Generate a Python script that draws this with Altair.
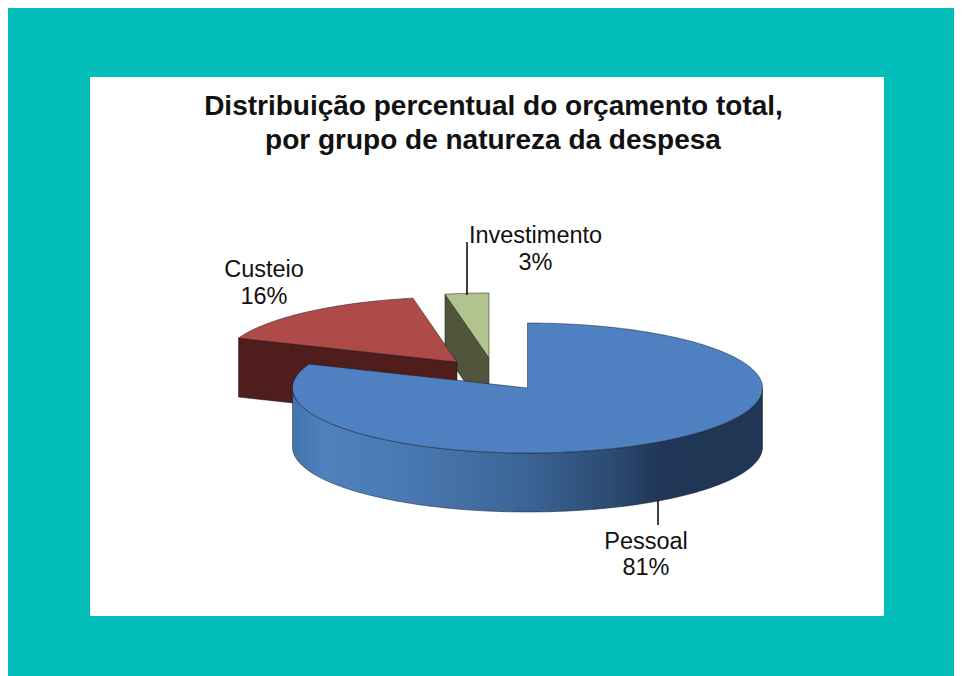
import math
import altair as alt
import pandas as pd

# Data
categories = ["Pessoal", "Custeio", "Investimento"]
shares = [81, 16, 3]
percent_labels = ["81%", "16%", "3%"]
title_lines = ["Distribuição percentual do orçamento total,", "por grupo de natureza da despesa"]

# Styling / layout
W, H = 946, 668
OFF = 8
TEAL = "#01BEB9"
RX, RY, DEPTH = 235, 65, 59
APEX = {"Pessoal": (527.5, 388), "Custeio": (457, 362), "Investimento": (489, 358)}
TOP = {"Pessoal": "#4F81C2", "Custeio": "#AE4A47", "Investimento": "#B3C38D"}
SIDE = {"Custeio": "#4F1E1C", "Investimento": "#50553B"}
EDGE = "#10151c"


def pt(apex, theta_deg, dy=0):
    t = math.radians(theta_deg)
    return [apex[0] + RX * math.sin(t), apex[1] - RY * math.cos(t) + dy]


def arc(apex, a, b, dy=0, step=1.0):
    n = max(2, int(abs(b - a) / step))
    return [pt(apex, a + (b - a) * i / n, dy) for i in range(n + 1)]


def feature(ring):
    ring = [list(p) for p in ring]
    ring.append(list(ring[0]))
    return {"type": "Feature", "properties": {}, "geometry": {"type": "Polygon", "coordinates": [ring]}}


def poly(ring, fill, stroke=EDGE, sw=0.6):
    return alt.Chart(alt.Data(values=[feature(ring)])).mark_geoshape(
        fill=fill, stroke=stroke, strokeWidth=sw, strokeOpacity=0.8
    ).project(type="identity", scale=1, translate=[-OFF, -OFF])


one = pd.DataFrame({"k": [0]})


def text(s, cx, y, size, bold=False):
    return alt.Chart(pd.DataFrame({"t": [s]})).mark_text(
        font="Liberation Sans", fontSize=size, fontWeight="bold" if bold else "normal",
        color="#111111", align="center", baseline="alphabetic",
    ).encode(x=alt.value(cx - OFF), y=alt.value(y - OFF), text="t:N")


def rule(x, y1, y2):
    return alt.Chart(one).mark_rule(color="#111111", strokeWidth=1.6).encode(
        x=alt.value(x - OFF), y=alt.value(y1 - OFF), y2=alt.value(y2 - OFF)
    )


# angles, clockwise from 12 o'clock
cum = [0]
for s in shares:
    cum.append(cum[-1] + s * 3.6)
p0, p1 = cum[0], cum[1]
c0, c1 = cum[1], cum[2]
i0, i1 = cum[2], cum[3]

panel = alt.Chart(one).mark_rect(color="white").encode(
    x=alt.value(90 - OFF), x2=alt.value(884 - OFF), y=alt.value(77 - OFF), y2=alt.value(616 - OFF)
)

# Investimento
A = APEX["Investimento"]
inv_face = [pt(A, i0), list(A), [A[0], A[1] + DEPTH], pt(A, i0, DEPTH)]
inv_top = [list(A)] + arc(A, i0, i1)

# Custeio
A = APEX["Custeio"]
cus_face = [pt(A, c0), list(A), [A[0], A[1] + DEPTH], pt(A, c0, DEPTH)]
cus_top = [list(A)] + arc(A, c0, c1)

# Pessoal
A = APEX["Pessoal"]
pes_side = arc(A, 90, 270) + arc(A, 270, 90, DEPTH)
pes_top = [list(A)] + arc(A, p0, p1)
side_gradient = alt.LinearGradient(
    gradient="linear", x1=0, x2=1, y1=0, y2=0,
    stops=[
        alt.GradientStop(offset=0.0, color="#4474AC"),
        alt.GradientStop(offset=0.07, color="#4F81BD"),
        alt.GradientStop(offset=0.22, color="#4B7AB4"),
        alt.GradientStop(offset=0.48, color="#3D6698"),
        alt.GradientStop(offset=0.68, color="#2C4B72"),
        alt.GradientStop(offset=0.78, color="#203757"),
        alt.GradientStop(offset=1.0, color="#203654"),
    ],
)

layers = [
    panel,
    poly(inv_face, SIDE["Investimento"]),
    poly(inv_top, TOP["Investimento"]),
    poly(cus_face, SIDE["Custeio"]),
    poly(cus_top, TOP["Custeio"]),
    poly(pes_side, side_gradient),
    poly(pes_top, TOP["Pessoal"]),
    rule(467, 242, 295),
    rule(658, 500, 525),
    text(title_lines[0], 493.5, 115, 28, True),
    text(title_lines[1], 493, 148.5, 28, True),
    text(categories[1], 264, 277, 23.5),
    text(percent_labels[1], 264, 304, 23.5),
    text(categories[2], 535.5, 243, 23.5),
    text(percent_labels[2], 535.5, 270, 23.5),
    text(categories[0], 646, 549, 23.5),
    text(percent_labels[0], 646, 575, 23.5),
]

chart = alt.layer(*layers).properties(
    width=W, height=H, padding=0, background=TEAL,
    autosize=alt.AutoSizeParams(type="none"),
).configure_view(stroke=None)

chart.save("out.html", embed_options={"renderer": "svg", "actions": False})
